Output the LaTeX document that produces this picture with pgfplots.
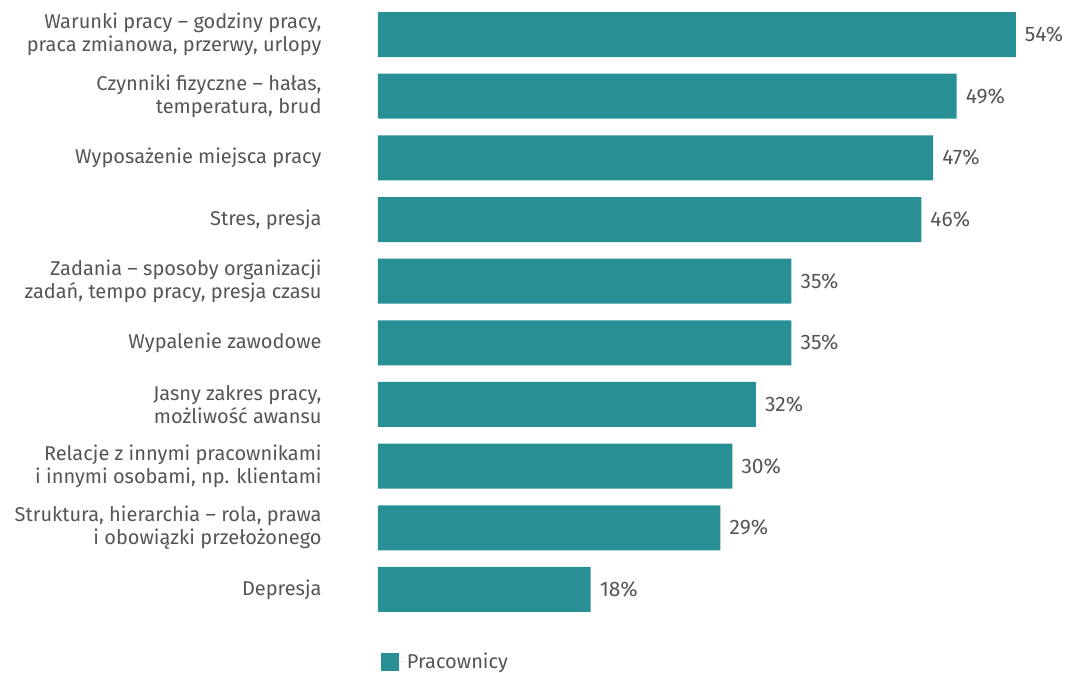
\documentclass[border=0pt]{standalone}
\usepackage{pgfplots}
\pgfplotsset{compat=1.18}
\usepackage{fontspec}
\setmainfont{Fira Sans}
\definecolor{barc}{RGB}{40,143,148}
\definecolor{txt}{RGB}{85,85,85}
\begin{document}
\begin{tikzpicture}
\begin{axis}[
  xbar, scale only axis, width=685pt, height=624pt,
  xmin=0, xmax=58, ymin=-0.56, ymax=9.56,
  bar width=45pt,
  axis line style={draw=none}, xtick=\empty,
  ytick={0,...,9}, tick style={draw=none},
  yticklabels={{Depresja},
    {Struktura, hierarchia – rola, prawa\\i obowiązki przełożonego},
    {Relacje z innymi pracownikami\\i innymi osobami, np. klientami},
    {Jasny zakres pracy,\\możliwość awansu},
    {Wypalenie zawodowe},
    {Zadania – sposoby organizacji\\zadań, tempo pracy, presja czasu},
    {Stres, presja},
    {Wyposażenie miejsca pracy},
    {Czynniki fizyczne – hałas,\\temperatura, brud},
    {Warunki pracy – godziny pracy,\\praca zmianowa, przerwy, urlopy}},
  yticklabel style={align=right, font=\fontsize{20}{23}\selectfont, text=txt, inner sep=0pt},
  yticklabel shift=52pt,
  point meta=x,
  nodes near coords={\pgfmathprintnumber[assume math mode=true]{\pgfplotspointmeta}\%},
  nodes near coords style={font=\fontsize{21}{23}\selectfont, text=txt, anchor=west, inner sep=0pt, xshift=9pt},
  legend style={draw=none, at={(axis description cs:0.004,-0.043)}, anchor=north west, inner sep=0pt,
    font=\fontsize{20}{23}\selectfont, text=txt},
  legend image code/.code={\fill[barc] (0pt,-9pt) rectangle (18pt,9pt); \path (18pt,0) -- (24pt,0);},
]
\addplot[fill=barc, draw=none] coordinates {
  (18,0) (29,1) (30,2) (32,3) (35,4) (35,5) (46,6) (47,7) (49,8) (54,9)};
\addlegendentry{Pracownicy}
\end{axis}
\path ([xshift=-378pt]current axis.north west) rectangle ([xshift=5pt,yshift=-45pt]current axis.south east);
\end{tikzpicture}
\end{document}
